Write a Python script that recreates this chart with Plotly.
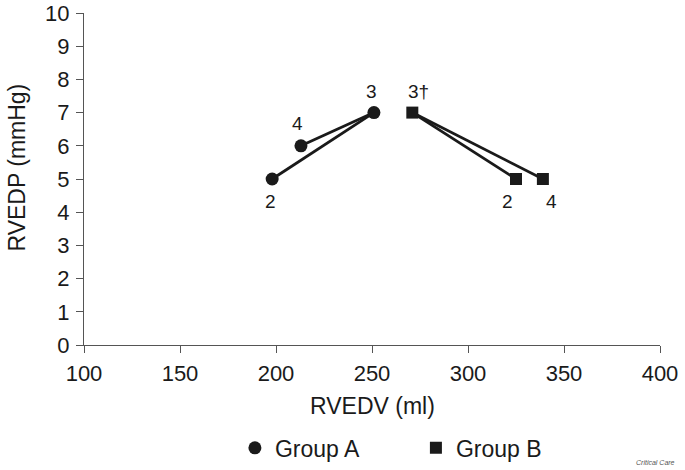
import plotly.graph_objects as go

# RVEDV (ml) / RVEDP (mmHg) per time point
group_a_x = [198, 213, 251]
group_a_y = [5, 6, 7]
group_a_labels = ["2", "4", "3"]

group_b_x = [271, 325, 339]
group_b_y = [7, 5, 5]
group_b_labels = ["3\u2020", "2", "4"]

x_ticks = [100, 150, 200, 250, 300, 350, 400]
y_ticks = list(range(0, 11))

font_family = "Liberation Sans, Arial, sans-serif"
ink = "#1a1a1a"
axis_gray = "#555555"

fig = go.Figure()

# Group A: lines from 2 -> 3 and 4 -> 3
fig.add_trace(go.Scatter(
    x=[group_a_x[0], group_a_x[2], None, group_a_x[1], group_a_x[2]],
    y=[group_a_y[0], group_a_y[2], None, group_a_y[1], group_a_y[2]],
    mode="lines", line=dict(color=ink, width=2.8),
    showlegend=False, hoverinfo="skip"
))
# Group B: lines from 3 -> 2 and 3 -> 4
fig.add_trace(go.Scatter(
    x=[group_b_x[0], group_b_x[1], None, group_b_x[0], group_b_x[2]],
    y=[group_b_y[0], group_b_y[1], None, group_b_y[0], group_b_y[2]],
    mode="lines", line=dict(color=ink, width=2.8),
    showlegend=False, hoverinfo="skip"
))

fig.add_trace(go.Scatter(
    x=group_a_x, y=group_a_y, mode="markers", name="Group A",
    marker=dict(symbol="circle", size=13, color=ink)
))
fig.add_trace(go.Scatter(
    x=group_b_x, y=group_b_y, mode="markers", name="Group B",
    marker=dict(symbol="square", size=12, color=ink)
))

# point labels (offsets in pixels)
a_offsets = [(-2, -22), (-3, 22), (-2, 21)]
b_offsets = [(6, 21), (-9, -22), (9, -22)]
for xs, ys, labs, offs in [(group_a_x, group_a_y, group_a_labels, a_offsets),
                           (group_b_x, group_b_y, group_b_labels, b_offsets)]:
    for x, y, lab, (dx, dy) in zip(xs, ys, labs, offs):
        fig.add_annotation(x=x, y=y, text=lab, showarrow=False,
                           xshift=dx, yshift=dy,
                           font=dict(size=19, color=ink, family=font_family))

# axis titles
fig.add_annotation(x=0.5, y=-0.185, xref="paper", yref="paper", text="RVEDV (ml)",
                   showarrow=False, yanchor="middle",
                   font=dict(size=23, color=ink, family=font_family))
fig.add_annotation(x=-0.116, y=0.535, xref="paper", yref="paper", text="RVEDP (mmHg)",
                   showarrow=False, textangle=-90, xanchor="center", yanchor="middle",
                   font=dict(size=23, color=ink, family=font_family))

fig.add_annotation(x=1.03, y=-0.355, xref="paper", yref="paper",
                   text="<i>Critical Care</i>", showarrow=False,
                   xanchor="right", yanchor="middle",
                   font=dict(size=7, color="#555", family=font_family))

axis_style = dict(
    showline=True, linecolor=axis_gray, linewidth=1.2,
    ticks="outside", ticklen=7, tickcolor=axis_gray, tickwidth=1.2,
    showgrid=False, zeroline=False, automargin=False,
    ticklabeloverflow="allow",
    tickfont=dict(size=22, color=ink, family=font_family),
)

fig.update_xaxes(range=[100, 400], tickvals=x_ticks, ticklabelstandoff=1, **axis_style)
fig.update_yaxes(range=[0, 10], tickvals=y_ticks, ticklabelstandoff=2, **axis_style)

fig.update_layout(
    width=685, height=470,
    margin=dict(l=84, r=25, t=13, b=125),
    plot_bgcolor="white", paper_bgcolor="white",
    font=dict(family=font_family, color=ink),
    showlegend=True,
    legend=dict(orientation="h", x=0.262, xanchor="left",
                yref="container", y=0.047, yanchor="middle",
                font=dict(size=23, color=ink, family=font_family),
                itemwidth=30, entrywidth=136),
)

# drop the default page margin so the figure sits at the window origin
fig.write_html("out.html", config={"displayModeBar": False},
               post_script="document.body.style.margin='0';")
